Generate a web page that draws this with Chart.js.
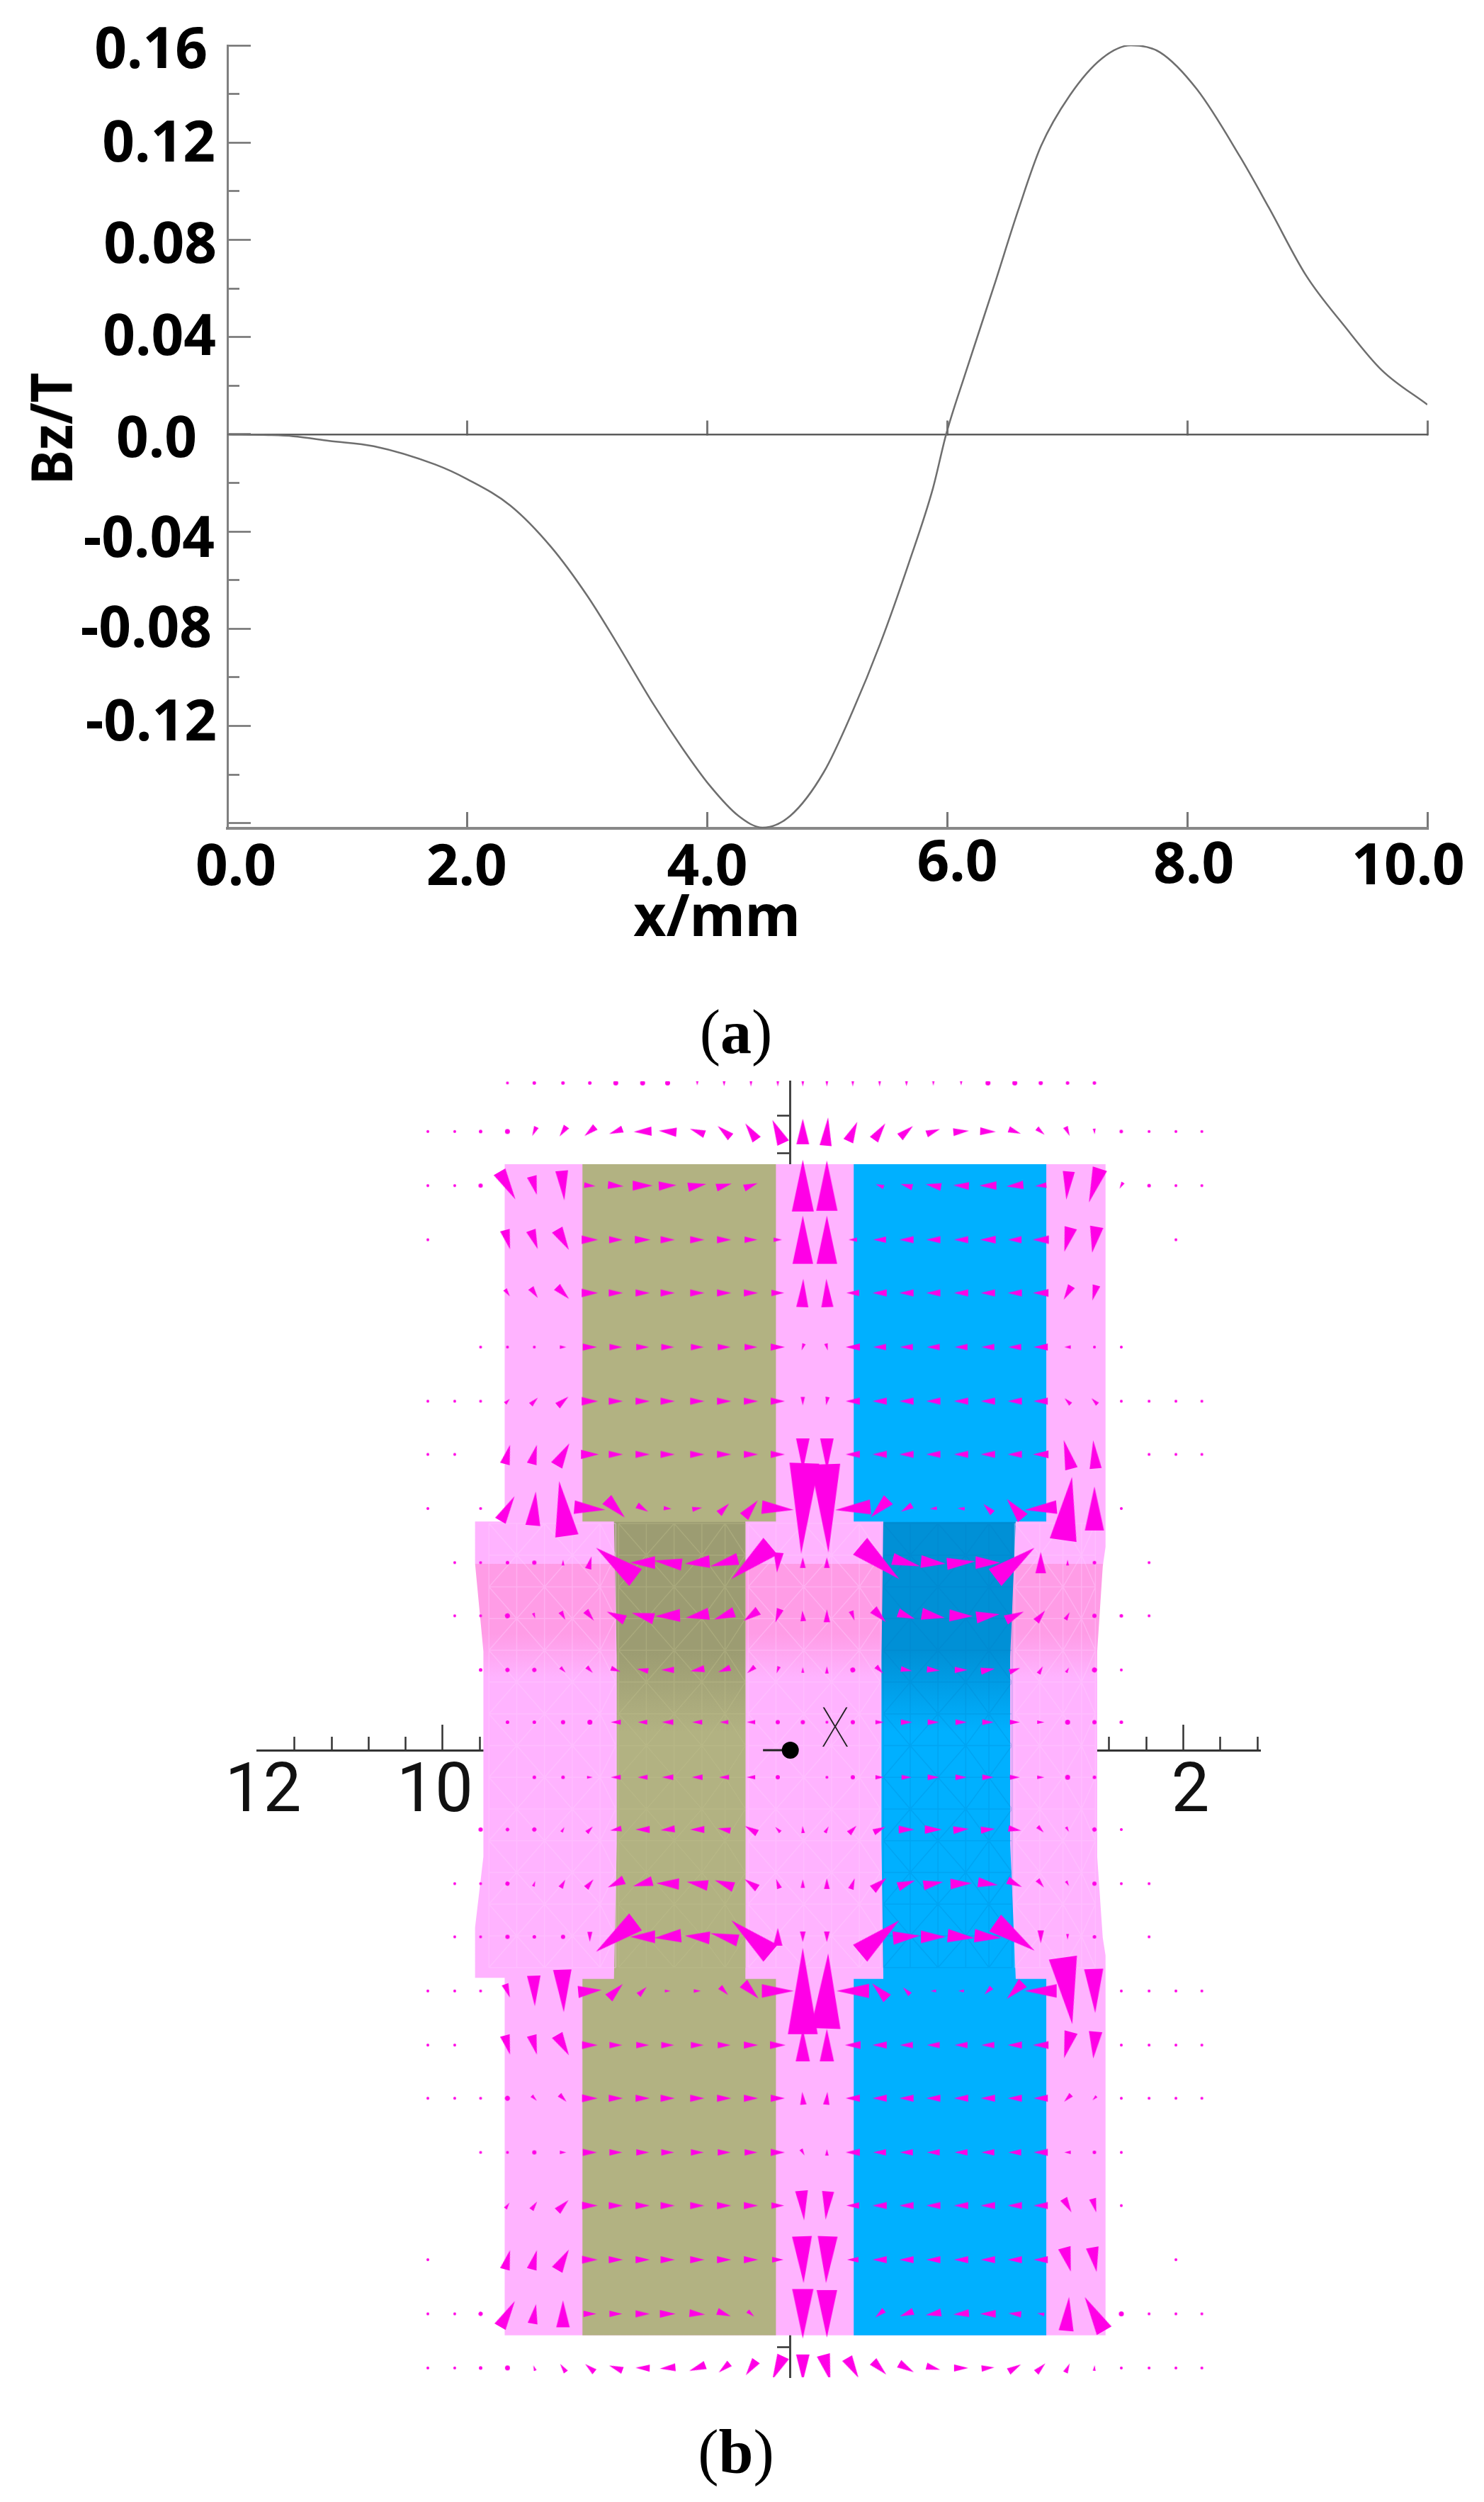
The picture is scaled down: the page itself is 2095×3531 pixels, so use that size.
<!DOCTYPE html>
<html>
<head>
<meta charset="utf-8">
<title>Bz field</title>
<script src="https://cdn.jsdelivr.net/npm/chart.js"></script>
<style>
    html, body { margin: 0; padding: 0; background: #fff; }
    #page { position: relative; width: 2095px; height: 3531px; overflow: hidden; }
    canvas { position: absolute; left: 0; }
    #curveChart { top: 0; }
    #fieldChart { top: 1500px; }
    .axisText { position: absolute; font: bold 80px/80px "Noto Sans"; color: #000; white-space: nowrap; }
    .caption { position: absolute; font: 88px/88px "Liberation Serif"; color: #000; transform: translateX(-50%); }
    #xMark { position: absolute; left: 1179px; top: 2400px; font: 100 78px/78px Roboto; color: #222; transform: translateX(-50%) scaleX(.85); }
</style>
</head>
<body>
<div id="page">
    <canvas id="curveChart" width="2095" height="1360"></canvas>
    <canvas id="fieldChart" width="2095" height="1900"></canvas>
    <div class="axisText" style="left:1012px;top:1250px;transform:translateX(-50%)">x/mm</div>
    <div class="axisText" style="left:71px;top:605px;transform:translate(-50%,-50%) rotate(-90deg) scaleX(.92)">Bz/T</div>
    <div class="caption" style="left:1039px;top:1413px">(<b>a</b>)</div>
    <div class="caption" style="left:1039px;top:3417px">(<b>b</b>)</div>
    <div id="xMark">X</div>
</div>
<script>
// panel (a): Bz against x
const curveX = [0, 0.34, 0.55, 0.85, 1.22, 1.73, 2.0, 2.36, 2.70, 3.0, 3.23, 3.55, 3.79, 4.02, 4.26, 4.46, 4.69, 4.97, 5.21, 5.44, 5.68, 5.88, 5.99, 6.15, 6.39, 6.59, 6.78, 7.02, 7.29, 7.53, 7.77, 8.08, 8.44, 8.68, 8.99, 9.31, 9.62, 10.0];
const curveBz = [0, -0.0003, -0.0008, -0.0027, -0.0049, -0.0124, -0.0185, -0.0294, -0.0465, -0.0665, -0.0846, -0.111, -0.129, -0.1445, -0.157, -0.1618, -0.157, -0.139, -0.114, -0.0862, -0.0528, -0.0222, 0, 0.025, 0.0612, 0.0921, 0.1185, 0.1394, 0.1547, 0.16, 0.1572, 0.1419, 0.1141, 0.0932, 0.0653, 0.0445, 0.0264, 0.0122];
const curveXTicks = [0, 2, 4, 6, 8, 10];
const curveXLabels = ["0.0", "2.0", "4.0", "6.0", "8.0", "10.0"];
const curveYMajor = [0.16, 0.12, 0.08, 0.04, 0, -0.04, -0.08, -0.12, -0.16];
const curveYLabels = ["0.16", "0.12", "0.08", "0.04", "0.0", "-0.04", "-0.08", "-0.12", ""];
const curveYMinor = [0.14, 0.10, 0.06, 0.02, -0.02, -0.06, -0.10, -0.14];

// the labels in the picture were placed by hand, so each has its own offset [dx, dy]
const curveNudges = {
    x: {"0.0": [12, 0], "2.0": [-1, 0], "4.0": [0, 0], "6.0": [14, -6], "8.0": [9, -3], "10.0": [-27, -1]},
    y: {"0.16": [-13, 9], "0.12": [-2, 4], "0.08": [0, 10], "0.04": [-1, 3], "0.0": [-28, 9], "-0.04": [-3, 13], "-0.08": [-7, 3], "-0.12": [0, -2]}
};
const fieldNudges = {
    x: {"12": [8, 0], "10": [-11, 0], "2": [10, 0]}
};

// panel (b): field map, all in mm
const fieldXMajor = [12, 10, 8, 6, 4, 2];
const fieldXMinor = [11.6, 11.2, 10.8, 10.4, 9.6, 2.8, 2.4, 1.6, 1.2];
const fieldYTicks = [6.8, 6.4, -6.4];

const pinkX = [9.33, 2.84, 2.84, 2.87, 2.93, 2.93, 2.87, 2.84, 2.84, 9.33, 9.33, 9.65, 9.65, 9.56, 9.56, 9.65, 9.65, 9.33];
const pinkY = [6.28, 6.28, 2.18, 1.97, 1.06, -1.14, -2.01, -2.2, -6.27, -6.27, -2.44, -2.44, -1.9, -1.14, 1.06, 2.0, 2.45, 2.45];
const oliveX = [8.49, 6.40, 6.40, 6.73, 6.73, 6.73, 6.40, 6.40, 8.49, 8.49, 8.15, 8.12, 8.12, 8.15, 8.49];
const oliveY = [6.28, 6.28, 2.45, 2.45, 0, -2.45, -2.45, -6.27, -6.27, -2.45, -2.45, -1, 1, 2.45, 2.45];
const blueX = [5.56, 3.48, 3.48, 3.81, 3.87, 3.87, 3.81, 3.48, 3.48, 5.56, 5.56, 5.24, 5.26, 5.26, 5.24, 5.56];
const blueY = [6.28, 6.28, 2.45, 2.45, 1, -1, -2.45, -2.45, -6.27, -6.27, -2.45, -2.45, -1, 1, 2.45, 2.45];

const meshRows = [2.43, 2.09, 1.75, 1.41, 1.07, 0.73, 0.39, 0.05, -0.29, -0.63, -0.97, -1.31, -1.65, -1.99, -2.33];
const meshPinkLeft = [9.5, 9.2, 8.9, 8.6, 8.3, 8.13];
const meshOlive = [8.1, 7.8, 7.5, 7.2, 6.95, 6.73];
const meshPinkMid = [6.7, 6.4, 6.1, 5.8, 5.5, 5.27];
const meshBlue = [5.24, 4.95, 4.65, 4.35, 4.1, 3.85];
const meshPinkRight = [3.82, 3.55, 3.3, 3.1, 2.95];

const arrowCols = [10.16, 9.87, 9.59, 9.30, 9.01, 8.70, 8.41, 8.13, 7.84, 7.57, 7.25, 6.96, 6.67, 6.38, 6.11, 5.85, 5.57, 5.28, 4.99, 4.70, 4.40, 4.11, 3.82, 3.54, 3.25, 2.96, 2.67, 2.37, 2.08, 1.80];
const arrowRows = [7.15, 6.63, 6.05, 5.47, 4.90, 4.32, 3.74, 3.17, 2.59, 2.01, 1.44, 0.86, 0.30, -0.29, -0.85, -1.43, -2.0, -2.58, -3.16, -3.73, -4.31, -4.88, -5.46, -6.04, -6.62];
// arrow size by row and column
const arrowSize = [
    [0,0,0,3,4,4,4,6,6,6,7,9,10,10,10,10,10,10,9,8,7,6,6,5,4,4,0,0,0,0],
    [3,3,4,6,14,17,20,20,25,25,22,24,28,36,36,40,30,28,24,20,22,22,18,14,14,8,4,3,3,3],
    [3,3,5,45,27,42,16,22,28,25,26,22,20,0,73,71,0,12,17,22,22,24,24,16,40,50,10,4,3,3],
    [3,0,0,28,28,33,23,19,22,20,20,20,18,12,68,68,12,18,20,20,20,22,19,23,35,37,0,0,3,0],
    [0,0,0,12,17,24,23,20,20,20,20,20,20,18,40,40,18,20,20,20,20,20,20,22,22,22,0,0,0,0],
    [0,0,3,3,3,9,20,18,18,18,18,18,18,20,10,10,20,18,18,18,18,18,18,20,9,3,3,0,0,0],
    [3,3,3,9,14,20,23,20,20,20,20,20,20,20,12,12,20,20,20,20,20,20,20,20,12,12,3,3,3,3],
    [3,3,0,28,28,36,25,20,20,20,20,20,20,20,45,45,20,20,20,20,20,20,20,22,42,40,0,3,3,3],
    [3,0,3,40,48,78,44,36,18,11,14,20,30,45,128,125,50,35,18,10,10,18,35,45,90,62,3,0,0,0],
    [0,3,3,4,5,8,18,70,35,40,35,40,72,28,15,15,0,72,40,35,40,35,70,30,8,4,0,3,0,0],
    [0,3,3,6,8,13,18,28,32,35,33,30,25,20,15,18,14,25,25,33,33,33,28,20,12,5,4,3,0,0],
    [0,0,4,5,5,10,12,14,16,18,20,18,14,10,8,10,6,14,16,18,18,20,16,12,8,6,3,0,0,0],
    [0,0,0,4,4,5,6,14,13,16,14,12,12,5,5,3,5,12,16,16,16,16,14,10,6,5,4,0,0,0],
    [0,0,0,0,4,4,8,14,14,16,15,14,12,5,0,3,5,12,14,16,16,16,14,10,6,4,0,0,0,0],
    [0,0,5,4,5,8,12,16,20,20,20,18,20,10,10,10,15,18,22,24,22,20,18,12,8,5,3,0,0,0],
    [0,3,3,5,8,13,16,25,28,32,30,28,22,14,12,15,16,25,25,28,30,28,22,14,8,5,3,3,0,0],
    [0,3,3,5,4,5,14,70,35,38,35,40,72,25,15,15,0,72,38,35,38,38,68,18,8,4,0,3,0,0],
    [3,3,3,20,43,60,33,28,16,8,10,16,30,45,122,106,46,30,14,8,8,14,32,45,95,62,3,3,3,3],
    [3,3,0,28,28,33,22,18,18,18,18,18,20,22,46,46,22,20,18,18,18,18,20,22,38,38,3,3,3,3],
    [3,3,3,6,10,14,22,20,20,20,20,20,20,20,18,18,20,20,20,20,20,20,20,20,14,8,3,3,3,3],
    [0,0,3,3,5,9,20,18,18,18,18,18,18,20,10,9,20,18,18,18,18,18,18,20,9,4,3,0,0,0],
    [0,0,0,10,14,22,22,20,20,20,20,20,20,18,42,40,18,20,20,20,20,20,20,20,22,20,3,0,0,0],
    [3,0,0,28,28,33,22,20,20,20,20,20,20,16,66,66,16,20,20,20,20,20,20,20,35,35,0,0,3,0],
    [3,3,5,42,28,38,18,18,20,22,22,20,12,0,70,67,0,16,20,22,22,22,18,10,48,55,6,3,3,3],
    [3,3,4,6,8,14,17,20,20,22,24,20,25,36,38,38,32,26,24,20,20,18,20,18,14,8,3,3,3,3]
];
// arrow direction in degrees, clockwise from pointing right
const arrowAngle = [
    [90,90,90,90,90,90,90,90,90,90,90,90,90,90,90,90,90,90,90,90,90,90,90,90,90,90,90,90,90,90],
    [0,0,0,90,115,125,140,160,178,185,200,220,235,245,270,275,295,305,320,340,355,2,20,40,65,85,90,0,0,0],
    [0,0,0,60,75,85,5,5,0,357,350,345,340,0,270,270,0,200,195,190,183,180,175,175,95,108,120,0,0,0],
    [0,0,0,75,70,60,0,0,0,0,0,0,0,0,270,270,180,180,180,180,180,180,180,180,105,100,0,0,0,0],
    [0,0,0,55,55,45,0,0,0,0,0,0,0,0,272,268,180,180,180,180,180,180,180,180,120,105,0,0,0,0],
    [0,0,0,0,0,0,0,0,0,0,0,0,0,0,110,75,180,180,180,180,180,180,180,180,180,0,0,0,0,0],
    [0,0,0,315,315,320,0,0,0,0,0,0,0,0,90,100,180,180,180,180,180,180,180,180,225,225,0,0,0,0],
    [0,0,0,285,285,300,0,0,0,0,0,0,0,0,90,90,180,180,180,180,180,180,180,180,255,265,0,0,0,0],
    [0,0,0,300,275,262,5,45,30,5,350,315,310,5,92,88,175,135,150,175,185,225,230,175,278,270,0,0,0,0],
    [0,0,0,0,0,270,285,217,180,188,175,165,140,95,270,270,90,40,15,5,355,0,323,270,270,0,0,0,0,0],
    [0,0,0,70,70,60,50,205,195,178,170,160,145,110,265,270,70,45,20,10,2,352,335,310,300,0,0,0,0,0],
    [0,0,0,60,60,45,45,20,190,180,170,160,140,110,270,270,70,45,10,5,0,350,340,300,300,300,0,0,0,0],
    [0,0,0,0,0,0,0,180,180,180,180,180,180,180,0,0,0,0,0,0,0,0,0,0,0,0,0,0,0,0],
    [0,0,0,0,0,0,0,180,180,180,180,180,180,180,0,0,0,0,0,0,0,0,0,0,0,0,0,0,0,0],
    [0,0,0,315,315,300,315,170,180,175,180,190,210,225,265,300,315,335,0,0,355,355,10,45,60,60,0,0,0,0],
    [0,0,0,290,290,300,310,155,165,182,190,200,215,250,270,270,290,320,340,350,358,8,25,50,60,0,0,0,0,0],
    [0,0,0,0,0,0,90,143,180,175,185,195,220,270,90,90,0,320,355,0,5,5,35,90,90,0,0,0,0,0],
    [0,0,0,70,88,88,355,315,315,0,0,45,45,0,270,272,180,225,225,180,180,135,135,180,82,88,0,0,0,0],
    [0,0,0,75,75,60,0,0,0,0,0,0,0,0,270,270,180,180,180,180,180,180,180,180,105,95,0,0,0,0],
    [0,0,0,45,45,45,0,0,0,0,0,0,0,0,265,275,180,180,180,180,180,180,180,180,135,135,0,0,0,0],
    [0,0,0,0,0,0,0,0,0,0,0,0,0,0,60,270,180,180,180,180,180,180,180,180,180,180,0,0,0,0],
    [0,0,0,305,305,315,0,0,0,0,0,0,0,0,85,95,180,180,180,180,180,180,180,180,60,75,0,0,0,0],
    [0,0,0,285,285,300,0,0,0,0,0,0,0,0,88,92,180,180,180,180,180,180,180,180,75,80,0,0,0,0],
    [0,0,120,300,280,270,0,0,0,0,5,20,40,0,90,90,0,140,160,170,175,180,185,190,275,240,0,0,0,0],
    [0,0,0,270,250,235,220,200,182,175,160,140,125,115,90,75,60,45,30,15,0,355,330,315,295,275,0,0,0,0]
];

const originX = [6.54, 6.245];
const originY = [0, 0];

const sprites = {};

// narrow triangle pointing right, used as the point style of one arrow
function arrow_sprite(size) {
    if (sprites[size]) return sprites[size];
    const isDot = size < 7;
    let w = size * 0.5;
    if (isDot) w = size + 1;
    else if (size >= 40) w = Math.min(size * 0.42, 42);
    const c = document.createElement("canvas");
    c.width = isDot ? Math.ceil(w) + 2 : Math.ceil(size) + 2;
    c.height = Math.ceil(w) + 2;
    const g = c.getContext("2d");
    g.fillStyle = "#ff00e6";
    g.beginPath();
    if (isDot) {
        g.arc(c.width / 2, c.height / 2, w / 2, 0, Math.PI * 2);
    } else {
        g.moveTo(1, 1);
        g.lineTo(1, c.height - 1);
        g.lineTo(c.width - 1, c.height / 2);
        g.closePath();
    }
    g.fill();
    sprites[size] = c;
    return c;
}

function to_points(xs, ys) {
    return xs.map((x, i) => ({x: x, y: ys[i]}));
}

function arrow_points() {
    const points = [];
    arrowRows.forEach((y, r) => {
        arrowCols.forEach((x, c) => {
            if (arrowSize[r][c] > 0) {
                points.push({x: x, y: y, size: arrowSize[r][c], angle: arrowAngle[r][c]});
            }
        });
    });
    return points;
}

// triangulated grid lines for one material, broken up with NaN points
function mesh_points(cols) {
    const points = [];
    const gap = {x: NaN, y: NaN};
    meshRows.forEach((y, r) => {
        points.push({x: cols[0], y: y}, {x: cols[cols.length - 1], y: y}, gap);
        if (r === meshRows.length - 1) return;
        const next = meshRows[r + 1];
        cols.forEach((x, c) => {
            points.push({x: x, y: y}, {x: x, y: next}, gap);
            if (c < cols.length - 1) {
                if ((r + c) % 2 === 0) {
                    points.push({x: x, y: y}, {x: cols[c + 1], y: next}, gap);
                } else {
                    points.push({x: cols[c + 1], y: y}, {x: x, y: next}, gap);
                }
            }
        });
    });
    return points;
}

// vertical shading through the middle band of a material
function band_fill(base, dark, top, hold, fade) {
    return function (context) {
        const chart = context.chart;
        const y = chart.scales.y;
        if (!y || !chart.chartArea) return base;
        const y0 = y.getPixelForValue(y.max);
        const y1 = y.getPixelForValue(y.min);
        const pos = v => (y.getPixelForValue(v) - y0) / (y1 - y0);
        const grad = chart.ctx.createLinearGradient(0, y0, 0, y1);
        grad.addColorStop(0, base);
        grad.addColorStop(pos(top), base);
        grad.addColorStop(pos(top) + 0.0005, dark);
        grad.addColorStop(pos(hold), dark);
        grad.addColorStop(pos(fade), base);
        grad.addColorStop(1, base);
        return grad;
    };
}

function region_dataset(xs, ys, color, order) {
    return {
        data: to_points(xs, ys), showLine: true, fill: "shape", backgroundColor: color,
        borderWidth: 0, borderDash: [1, 0], pointRadius: 0, order: order
    };
}

function mesh_dataset(cols, color) {
    return {
        data: mesh_points(cols), showLine: true, fill: false, borderColor: color,
        borderWidth: 1.5, pointRadius: 0, order: 2
    };
}

function nudge_plugin(nudges) {
    return {
        id: "nudgeLabels",
        beforeDraw(chart) {
            Object.keys(nudges).forEach(id => {
                chart.scales[id].getLabelItems().forEach(item => {
                    const n = nudges[id][item.label];
                    if (n && !item.nudged) {
                        item.options.translation[0] += n[0];
                        item.options.translation[1] += n[1];
                        item.nudged = true;
                    }
                });
            });
        }
    };
}

// the chart area is set by hand, so drop the room the scales ask for their labels
function clear_padding(scale) {
    scale.paddingLeft = 0;
    scale.paddingRight = 0;
    scale.paddingTop = 0;
    scale.paddingBottom = 0;
}

Chart.defaults.animation = false;
Chart.defaults.responsive = false;
Chart.defaults.devicePixelRatio = 1;
Chart.defaults.plugins.legend.display = false;
Chart.defaults.plugins.tooltip.enabled = false;

const labelFont = {family: "Noto Sans", size: 80, weight: "bold"};

function curve_x_axis(extra) {
    return Object.assign({
        type: "linear", min: 0, max: 10,
        afterBuildTicks: s => { s.ticks = curveXTicks.map(v => ({value: v})); },
        ticks: {display: false, autoSkip: false, maxRotation: 0, minRotation: 0}
    }, extra);
}

new Chart(document.getElementById("curveChart"), {
    type: "scatter",
    data: {
        datasets: [{
            data: to_points(curveX, curveBz),
            showLine: true,
            borderColor: "#6e6e6e",
            borderWidth: 2.5,
            cubicInterpolationMode: "monotone",
            pointRadius: 0
        }]
    },
    options: {
        layout: {autoPadding: false, padding: {left: 0, top: 64, right: 80, bottom: 0}},
        scales: {
            x: curve_x_axis({
                position: "bottom",
                afterFit: s => { s.height = 191; clear_padding(s); },
                border: {color: "#888", width: 4},
                grid: {drawOnChartArea: false, tickLength: -23, tickWidth: 3, tickColor: "#777"},
                ticks: {
                    display: true, autoSkip: false, maxRotation: 0, minRotation: 0, padding: 32,
                    color: "#000", font: labelFont,
                    callback: v => curveXLabels[curveXTicks.indexOf(v)]
                }
            }),
            xZero: curve_x_axis({
                position: {y: 0},
                border: {color: "#5c5c5c", width: 2.5},
                grid: {drawOnChartArea: false, tickLength: -21, tickWidth: 3, tickColor: "#777"}
            }),
            y: {
                type: "linear", min: -0.1621, max: 0.16, position: "left",
                afterFit: s => { s.width = 321; clear_padding(s); },
                afterBuildTicks: s => { s.ticks = curveYMajor.map(v => ({value: v})); },
                border: {color: "#808080", width: 3},
                grid: {drawOnChartArea: false, tickLength: -33, tickWidth: 2.5, tickColor: "#707070"},
                ticks: {
                    autoSkip: false, padding: 48, color: "#000", font: labelFont,
                    callback: v => curveYLabels[curveYMajor.indexOf(v)]
                }
            },
            yMinor: {
                type: "linear", min: -0.1621, max: 0.16, position: {x: 0},
                afterBuildTicks: s => { s.ticks = curveYMinor.map(v => ({value: v})); },
                border: {display: false},
                grid: {drawOnChartArea: false, tickLength: -17, tickWidth: 2.5, tickColor: "#707070"},
                ticks: {display: false, autoSkip: false}
            }
        }
    },
    plugins: [nudge_plugin(curveNudges)]
});

new Chart(document.getElementById("fieldChart"), {
    type: "scatter",
    data: {
        datasets: [
            {
                data: arrow_points(),
                pointStyle: c => arrow_sprite(c.raw.size),
                pointRotation: c => c.raw.angle,
                pointRadius: 3,
                clip: 0,
                order: 0
            },
            {data: to_points(originX.slice(1), originY.slice(1)), pointRadius: 12, pointBackgroundColor: "#000", pointBorderWidth: 0, order: 1},
            {data: to_points(originX, originY), showLine: true, borderColor: "#222", borderWidth: 3, pointRadius: 0, order: 1},
            mesh_dataset(meshPinkLeft, "rgba(255,205,255,.4)"),
            mesh_dataset(meshPinkMid, "rgba(255,205,255,.4)"),
            mesh_dataset(meshPinkRight, "rgba(255,205,255,.4)"),
            mesh_dataset(meshOlive, "rgba(190,190,140,.4)"),
            mesh_dataset(meshBlue, "rgba(0,125,195,.22)"),
            region_dataset(oliveX, oliveY, band_fill("#b2b282", "#9c9c72", 2.45, 1.06, 0.2), 3),
            region_dataset(blueX, blueY, band_fill("#00b0ff", "#0090d6", 2.45, 1.06, 0.2), 3),
            region_dataset(pinkX, pinkY, band_fill("#ffb3ff", "#ff9ce6", 2.0, 1.25, 0.78), 4)
        ]
    },
    options: {
        layout: {autoPadding: false, padding: {left: 363.5, top: 26, right: 316, bottom: 45}},
        scales: {
            x: {
                type: "linear", reverse: true, min: 1.17, max: 12, position: {y: 0},
                afterBuildTicks: s => { s.ticks = fieldXMajor.map(v => ({value: v})); },
                border: {color: "#333", width: 3},
                grid: {
                    drawOnChartArea: false, tickLength: -38, tickWidth: 2.5,
                    // no tick mark at the 12, only its label
                    tickColor: c => (c.tick && c.tick.value === 12 ? "transparent" : "#333")
                },
                ticks: {
                    autoSkip: false, maxRotation: 0, minRotation: 0, padding: 42, color: "#111",
                    font: {family: "Roboto", size: 96, weight: "normal"},
                    callback: v => String(v)
                }
            },
            xMinor: {
                type: "linear", reverse: true, min: 1.17, max: 12, position: {y: 0},
                afterBuildTicks: s => { s.ticks = fieldXMinor.map(v => ({value: v})); },
                border: {display: false},
                grid: {drawOnChartArea: false, tickLength: -19, tickWidth: 2.5, tickColor: "#333"},
                ticks: {display: false, autoSkip: false}
            },
            y: {
                type: "linear", min: -6.72, max: 7.168, position: {x: 6.245},
                afterBuildTicks: s => { s.ticks = fieldYTicks.map(v => ({value: v})); },
                border: {color: "#444", width: 3},
                grid: {drawOnChartArea: false, tickLength: 17, tickWidth: 2.5, tickColor: "#333"},
                ticks: {display: false, autoSkip: false}
            }
        }
    },
    plugins: [nudge_plugin(fieldNudges)]
});
</script>
</body>
</html>
